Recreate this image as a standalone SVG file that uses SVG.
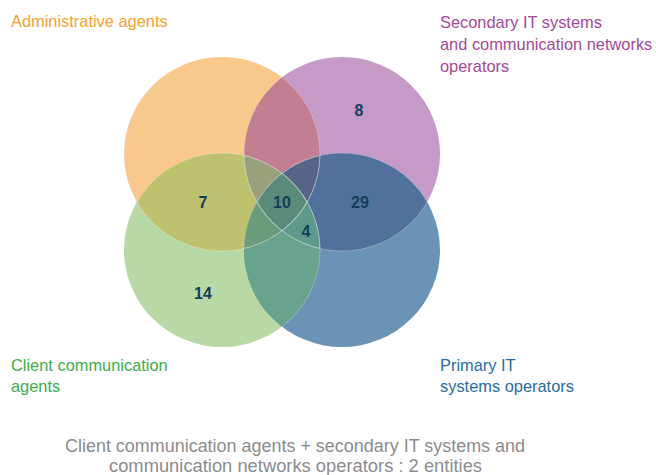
<svg xmlns="http://www.w3.org/2000/svg" xmlns:xlink="http://www.w3.org/1999/xlink" width="656" height="475" viewBox="0 0 656 475">
<style>
.lbl{font-family:"Liberation Sans",Arial,sans-serif;font-size:16.4px}
.num{font-family:"Liberation Sans",Arial,sans-serif;font-size:16px;font-weight:bold;fill:#133f5c;text-anchor:middle}
.foot{font-family:"Liberation Sans",Arial,sans-serif;font-size:17.5px;fill:#8c8c8c;text-anchor:middle}
.edge{fill:none;stroke:#ffffff;stroke-opacity:0.35;stroke-width:0.8}
</style>
<defs>
<ellipse id="eO" cx="222" cy="154" rx="98" ry="97"/>
<ellipse id="eP" cx="342" cy="154" rx="98" ry="97"/>
<ellipse id="eG" cx="222" cy="250" rx="98" ry="97"/>
<ellipse id="eB" cx="342" cy="250" rx="98" ry="97"/>
<clipPath id="cO"><use xlink:href="#eO"/></clipPath>
<clipPath id="cP"><use xlink:href="#eP"/></clipPath>
<clipPath id="cG"><use xlink:href="#eG"/></clipPath>
<clipPath id="cB"><use xlink:href="#eB"/></clipPath>
</defs>
<rect width="656" height="475" fill="#ffffff"/>

<g id="admin">
<use xlink:href="#eO" fill="#F9C98B"/>
<text class="lbl" x="11" y="27" fill="#F5A52E">Administrative agents</text>
</g>
<g id="secondary">
<use xlink:href="#eP" fill="#C59AC6"/>
<text class="lbl" fill="#A24A99"><tspan x="440" y="27.5">Secondary IT systems</tspan><tspan x="440" y="49.5">and communication networks</tspan><tspan x="440" y="71.5">operators</tspan></text>
</g>
<g id="client">
<use xlink:href="#eG" fill="#B8D9A6"/>
<text class="lbl" fill="#3DAE4A"><tspan x="11" y="371">Client communication</tspan><tspan x="11" y="392">agents</tspan></text>
</g>
<g id="primary">
<use xlink:href="#eB" fill="#6A93B5"/>
<text class="lbl" fill="#2A6C9E"><tspan x="440" y="371">Primary IT</tspan><tspan x="440" y="392">systems operators</tspan></text>
</g>

<g id="overlaps">
<g clip-path="url(#cO)"><use xlink:href="#eP" fill="#C27E93"/></g>
<g clip-path="url(#cO)"><use xlink:href="#eG" fill="#BEC16E"/></g>
<g clip-path="url(#cP)"><use xlink:href="#eB" fill="#52709C"/></g>
<g clip-path="url(#cG)"><use xlink:href="#eB" fill="#67A38D"/></g>
<g clip-path="url(#cO)"><use xlink:href="#eB" fill="#5A8B7A"/></g>
<g clip-path="url(#cP)"><use xlink:href="#eG" fill="#5A8B7A"/></g>
<g clip-path="url(#cO)"><g clip-path="url(#cP)"><use xlink:href="#eG" fill="#9AA07C"/></g></g>
<g clip-path="url(#cO)"><g clip-path="url(#cP)"><use xlink:href="#eB" fill="#586488"/></g></g>
<g clip-path="url(#cO)"><g clip-path="url(#cG)"><use xlink:href="#eB" fill="#6A9B7A"/></g></g>
<g clip-path="url(#cP)"><g clip-path="url(#cG)"><use xlink:href="#eB" fill="#5D9A8B"/></g></g>
<g clip-path="url(#cO)"><g clip-path="url(#cP)"><g clip-path="url(#cG)"><use xlink:href="#eB" fill="#5A8B7A"/></g></g></g>
<g clip-path="url(#cO)"><use xlink:href="#eP" class="edge"/><use xlink:href="#eG" class="edge"/><use xlink:href="#eB" class="edge"/></g>
<g clip-path="url(#cP)"><use xlink:href="#eO" class="edge"/><use xlink:href="#eG" class="edge"/><use xlink:href="#eB" class="edge"/></g>
<g clip-path="url(#cG)"><use xlink:href="#eO" class="edge"/><use xlink:href="#eP" class="edge"/></g>
<g clip-path="url(#cB)"><use xlink:href="#eO" class="edge"/><use xlink:href="#eP" class="edge"/><use xlink:href="#eG" class="edge"/></g>
</g>

<g id="counts">
<text class="num" x="359" y="116">8</text>
<text class="num" x="203" y="208">7</text>
<text class="num" x="282" y="208">10</text>
<text class="num" x="360" y="208">29</text>
<text class="num" x="306" y="237">4</text>
<text class="num" x="203" y="299">14</text>
</g>

<g id="footnote">
<text class="foot"><tspan x="295" y="452" textLength="460" lengthAdjust="spacingAndGlyphs">Client communication agents + secondary IT systems and</tspan><tspan x="295.5" y="472" textLength="373" lengthAdjust="spacingAndGlyphs">communication networks operators : 2 entities</tspan></text>
</g>
</svg>
